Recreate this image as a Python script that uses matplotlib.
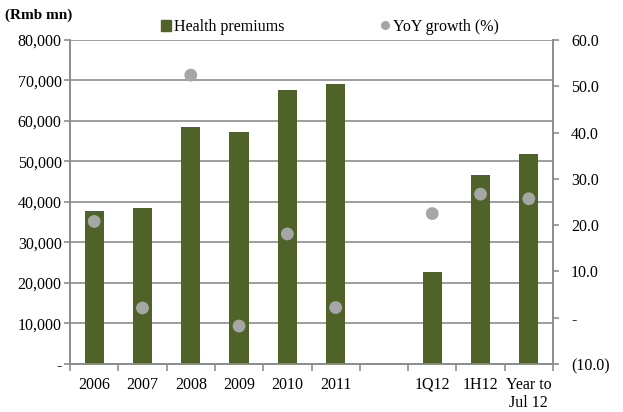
import numpy as np
import matplotlib.pyplot as plt
from matplotlib.lines import Line2D
from matplotlib.patches import Patch
from matplotlib.ticker import FuncFormatter

plt.rcParams['font.family'] = ['Liberation Serif', 'DejaVu Serif']

categories = ['2006', '2007', '2008', '2009', '2010', '2011', '', '1Q12', '1H12', 'Year to\nJul 12']
premiums = [37700, 38400, 58500, 57400, 67700, 69100, np.nan, 22800, 46600, 51900]
growth = [20.8, 2.1, 52.4, -1.8, 18.1, 2.2, np.nan, 22.5, 26.7, 25.7]

bar_color = '#4F6228'
dot_color = '#A6A6A6'
grid_color = '#8C8C8C'
fs = 11.5

fig = plt.figure(figsize=(6.23, 4.12), dpi=100)
ax = fig.add_axes([0.1124, 0.1165, 0.7752, 0.7865])
ax2 = ax.twinx()

x = np.arange(len(categories))
ax.bar(x, premiums, width=0.4, color=bar_color, zorder=3)
ax2.scatter(x, growth, s=85, color=dot_color, zorder=4, edgecolors='none')

ax.set_xlim(-0.5, len(categories) - 0.5)
ax.set_ylim(0, 80000)
ax2.set_ylim(-10, 60)
ax.set_yticks(np.arange(0, 80001, 10000))
ax2.set_yticks(np.arange(-10, 61, 10))

ax.yaxis.set_major_formatter(FuncFormatter(lambda v, p: '-' if v == 0 else f'{v:,.0f}'))
ax2.yaxis.set_major_formatter(FuncFormatter(
    lambda v, p: '-' if v == 0 else (f'({abs(v):.1f})' if v < 0 else f'{v:.1f}')))

ax.set_xticks(x)
ax.set_xticklabels(categories, va='top')
ax.set_xticks(np.arange(-0.5, len(categories), 1), minor=True)
ax.tick_params(axis='x', which='major', length=0, pad=9, labelsize=fs)
ax.tick_params(axis='x', which='minor', length=5, color=grid_color, width=1.2)
ax.tick_params(axis='y', length=4, color=grid_color, width=1.2, labelsize=fs, pad=2)
ax2.tick_params(axis='y', length=4, color=grid_color, width=1.2, labelsize=fs, pad=9)

ax.grid(axis='y', color=grid_color, linewidth=1.2, zorder=0)
ax.set_axisbelow(True)
for a in (ax, ax2):
    a.spines['top'].set_visible(False)
    for s in ('left', 'right', 'bottom'):
        a.spines[s].set_color(grid_color)
        a.spines[s].set_linewidth(1.2)

fig.text(0.008, 0.963, '(Rmb mn)', fontsize=11, fontweight='bold', va='center')

handles = [Patch(color=bar_color, label='Health premiums'),
           Line2D([], [], marker='o', linestyle='none', color=dot_color, markersize=5.5,
                  label='YoY growth (%)')]
fig.legend(handles=handles, loc='center', bbox_to_anchor=(0.53, 0.935), ncol=2,
           frameon=False, fontsize=fs, handlelength=0.6, handletextpad=0.2,
           columnspacing=6.0)

fig.savefig('out.png', dpi=100)
